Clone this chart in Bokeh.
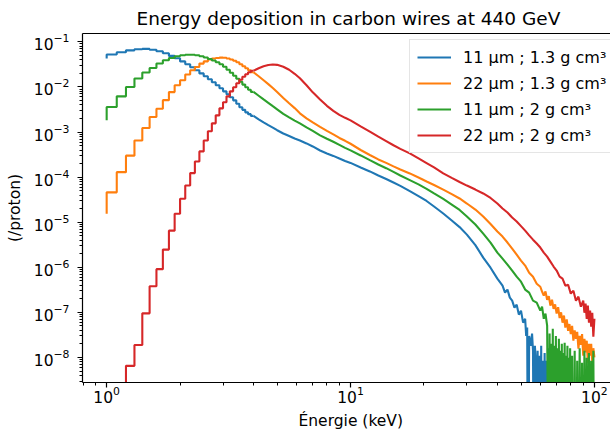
from bokeh.plotting import figure
from bokeh.models import (LogAxis, FixedTicker, LogTickFormatter, Legend,
                          LegendItem, Range1d, Title)
from bokeh.embed import file_html
from bokeh.resources import INLINE

# ---------------- data ----------------
# common energy points (keV) for the smooth part of the spectra
energy_keV = [1.0, 1.1, 1.2, 1.3, 1.4, 1.5, 1.6, 1.7, 1.8, 1.9,
              2.0, 2.1, 2.2, 2.3, 2.4, 2.5, 2.6, 2.7, 2.8, 2.9,
              3.0, 3.1, 3.2, 3.3, 3.4, 3.5, 3.6, 3.7, 3.8, 3.9, 4.0,
              4.2, 4.4, 4.6, 4.8, 5.0, 5.3, 5.6, 5.9, 6.2, 6.6, 7.0,
              7.5, 8.0, 8.5, 9.0, 9.5, 10, 11, 12, 13, 14, 15, 16,
              17.5, 19, 20.5, 22, 24, 26, 28, 30, 32.5, 35, 37.5, 40]
N_STEP = 31  # bins 1.0 ... 4.0 keV are wide enough on screen to show as steps

blue_11um_13 = [4.3e-2, 5.25e-2, 5.9e-2, 6.5e-2, 6.9e-2, 7.0e-2, 6.7e-2, 6.2e-2, 5.6e-2, 4.9e-2,
                4.35e-2, 3.7e-2, 3.2e-2, 2.74e-2, 2.35e-2, 2.0e-2, 1.73e-2, 1.48e-2, 1.27e-2, 1.09e-2,
                9.4e-3, 8.0e-3, 6.9e-3, 5.9e-3, 5.05e-3, 4.25e-3, 3.54e-3, 3.11e-3, 2.74e-3, 2.5e-3, 2.29e-3,
                1.91e-3, 1.64e-3, 1.42e-3, 1.25e-3, 1.1e-3, 9.3e-4, 8.2e-4, 7.2e-4, 6.5e-4, 5.6e-4, 4.8e-4,
                3.9e-4, 3.36e-4, 2.96e-4, 2.6e-4, 2.29e-4, 2.07e-4, 1.64e-4, 1.34e-4, 1.09e-4, 9.1e-5, 7.6e-5, 6.4e-5,
                4.9e-5, 3.8e-5, 2.96e-5, 2.23e-5, 1.56e-5, 1.09e-5, 7.8e-6, 5.3e-6, 3.1e-6, 1.64e-6, 9.8e-7, 5.6e-7]
blue_tail_x = [42, 43, 44, 45, 46, 47, 48, 49, 50, 51, 52, 52.5, 53, 53.5, 54, 55, 55.5, 56, 56.5, 57,
               57.5, 58, 58.5, 59, 59.5, 60, 60.5, 61, 61.5, 62, 62.5, 63, 63.5, 64, 64.5, 65, 65.5, 66,
               66.5, 67, 67.5, 68, 68.5, 69, 69.5, 70, 70.5, 71, 71.5, 72, 72.5, 73, 73.5, 74, 74.5, 75]
blue_tail_y = [3.9e-7, 2.74e-7, 3.2e-7, 2.12e-7, 1.82e-7, 1.27e-7, 1.48e-7, 8.9e-8, 1.09e-7, 5.9e-8,
               7.2e-8, 3.0e-8, 4.6e-8, 0, 3.0e-8, 1.82e-8, 3.4e-8, 1.41e-8, 0, 1.82e-8,
               8.45e-9, 0, 1.41e-8, 0, 1.09e-8, 0, 1.82e-8, 0, 8.45e-9, 0, 1.25e-8, 0, 8.45e-9, 0,
               1.6e-8, 0, 7.7e-9, 0, 1.09e-8, 0, 6.5e-9, 0, 9.8e-9, 0, 6.5e-9, 0, 1.25e-8, 0,
               5.6e-9, 0, 8.45e-9, 0, 5.6e-9, 0, 7.7e-9, 0]

orange_22um_13 = [1.54e-5, 4.6e-5, 1.29e-4, 3.0e-4, 6.5e-4, 1.23e-3, 2.16e-3, 3.3e-3, 5.1e-3, 7.7e-3,
                  1.09e-2, 1.41e-2, 1.89e-2, 2.35e-2, 2.78e-2, 3.3e-2, 3.7e-2, 4.06e-2, 4.28e-2, 4.41e-2,
                  4.48e-2, 4.45e-2, 4.3e-2, 4.06e-2, 3.82e-2, 3.54e-2, 3.2e-2, 2.88e-2, 2.6e-2, 2.35e-2, 2.12e-2,
                  1.73e-2, 1.41e-2, 1.16e-2, 9.5e-3, 7.7e-3, 5.7e-3, 4.35e-3, 3.4e-3, 2.6e-3, 2.02e-3, 1.64e-3,
                  1.3e-3, 1.06e-3, 8.9e-4, 7.4e-4, 6.4e-4, 5.5e-4, 4.0e-4, 3.1e-4, 2.47e-4, 2.07e-4, 1.73e-4, 1.48e-4,
                  1.21e-4, 9.8e-5, 8.0e-5, 6.7e-5, 5.3e-5, 4.2e-5, 3.36e-5, 2.6e-5, 1.91e-5, 1.34e-5, 9.1e-6, 6.2e-6]
orange_tail_x = [42, 44, 46, 48, 50, 52, 54, 56, 58, 60, 61, 62, 63, 64, 65, 66, 67, 68, 69, 70,
                 71, 72, 73, 74, 75, 76, 77, 78, 79, 80, 81, 82, 83, 84, 85, 86, 87, 88, 89, 90,
                 91, 92, 93, 94, 95, 96, 97, 98, 99, 100]
orange_tail_y = [4.8e-6, 3.54e-6, 2.6e-6, 1.91e-6, 1.41e-6, 1.09e-6, 7.6e-7, 6.2e-7, 4.3e-7, 3.7e-7,
                 2.9e-7, 2.35e-7, 2.9e-7, 1.9e-7, 2.3e-7, 1.41e-7, 1.9e-7, 1.2e-7, 1.5e-7, 9.4e-8,
                 1.3e-7, 7.5e-8, 1.0e-7, 5.9e-8, 8.5e-8, 4.6e-8, 7.0e-8, 3.9e-8, 5.5e-8, 3.3e-8,
                 5.0e-8, 2.35e-8, 4.0e-8, 2.6e-8, 3.7e-8, 1.56e-8, 3.0e-8, 1.9e-8, 3.3e-8, 1.09e-8,
                 2.6e-8, 1.3e-8, 2.35e-8, 7.6e-9, 2.0e-8, 1.1e-8, 2.0e-8, 7.6e-9, 1.6e-8, 1.0e-8]

green_11um_2 = [1.82e-3, 3.6e-3, 6.2e-3, 1.0e-2, 1.54e-2, 2.09e-2, 2.64e-2, 3.31e-2, 3.92e-2, 4.41e-2,
                4.81e-2, 5.06e-2, 5.2e-2, 5.2e-2, 5.06e-2, 4.81e-2, 4.5e-2, 4.17e-2, 3.86e-2, 3.54e-2,
                3.2e-2, 2.81e-2, 2.41e-2, 2.07e-2, 1.77e-2, 1.52e-2, 1.31e-2, 1.13e-2, 9.85e-3, 8.7e-3, 7.8e-3,
                6.4e-3, 5.3e-3, 4.46e-3, 3.76e-3, 3.2e-3, 2.54e-3, 2.12e-3, 1.8e-3, 1.56e-3, 1.27e-3, 1.06e-3,
                8.45e-4, 7.1e-4, 6.1e-4, 5.2e-4, 4.46e-4, 3.92e-4, 3.03e-4, 2.38e-4, 1.91e-4, 1.58e-4, 1.31e-4, 1.09e-4,
                8.6e-5, 6.9e-5, 5.5e-5, 4.35e-5, 3.28e-5, 2.47e-5, 1.87e-5, 1.34e-5, 8.9e-6, 5.6e-6, 3.54e-6, 2.12e-6]
green_tail_x = [42, 44, 46, 48, 50, 52, 54, 56, 58, 60, 61, 62, 63, 64, 65, 65.5, 66, 66.5, 67, 67.5,
                68, 68.5, 69, 69.5, 70, 70.5, 71, 71.5, 72, 72.5, 73, 73.5, 74, 74.5, 75, 75.5, 76, 76.5,
                77, 77.5, 78, 78.5, 79, 79.5, 80, 81, 82, 83, 84, 85, 86, 87, 88, 89, 90, 91, 92, 93,
                94, 95, 96, 97, 98, 99, 100]
green_tail_y = [1.56e-6, 1.15e-6, 8.45e-7, 6.2e-7, 4.8e-7, 3.2e-7, 2.74e-7, 1.82e-7, 1.64e-7, 1.09e-7,
                1.34e-7, 7.2e-8, 9.4e-8, 5.1e-8, 0, 3.4e-8, 0, 2.0e-8, 0, 4.35e-8,
                0, 1.82e-8, 0, 3.0e-8, 0, 1.6e-8, 0, 2.6e-8, 0, 1.41e-8, 0, 2.0e-8, 0, 1.25e-8, 0, 2.12e-8, 0, 1.09e-8,
                0, 1.82e-8, 0, 9.8e-9, 0, 1.6e-8, 0, 1.09e-8, 0, 1.41e-8, 0, 8.45e-9, 0, 1.6e-8, 0, 7.6e-9, 0, 1.41e-8, 0, 9.8e-9,
                0, 1.25e-8, 0, 8.45e-9, 0, 1.41e-8, 0]

red_22um_2 = [0, 0, 0, 6.5e-9, 1.89e-8, 9.5e-8, 3.8e-7, 9.1e-7, 2.47e-6, 6.5e-6,
              1.54e-5, 3.31e-5, 6.5e-5, 1.23e-4, 2.23e-4, 3.72e-4, 6.5e-4, 1.04e-3, 1.56e-3, 2.35e-3,
              3.36e-3, 4.57e-3, 6.2e-3, 8.0e-3, 9.85e-3, 1.21e-2, 1.45e-2, 1.69e-2, 1.92e-2, 2.12e-2, 2.29e-2,
              2.6e-2, 2.88e-2, 3.08e-2, 3.16e-2, 3.1e-2, 2.81e-2, 2.41e-2, 1.96e-2, 1.56e-2, 1.09e-2, 7.6e-3,
              5.3e-3, 3.82e-3, 2.96e-3, 2.41e-3, 2.07e-3, 1.82e-3, 1.34e-3, 1.02e-3, 7.9e-4, 6.3e-4, 5.1e-4, 4.24e-4,
              3.36e-4, 2.6e-4, 2.05e-4, 1.64e-4, 1.21e-4, 9.6e-5, 7.8e-5, 6.5e-5, 5.3e-5, 4.35e-5, 3.45e-5, 2.6e-5]
red_tail_x = [42, 44, 46, 48, 50, 52, 54, 56, 58, 60, 62, 64, 66, 68, 70, 72, 74, 76, 78, 80,
              82, 84, 86, 88, 90, 91, 92, 93, 94, 95, 96, 97, 98, 99, 100]
red_tail_y = [2.02e-5, 1.64e-5, 1.27e-5, 1.04e-5, 8.2e-6, 6.5e-6, 5.1e-6, 4.1e-6, 3.36e-6, 2.74e-6,
              2.12e-6, 1.73e-6, 1.34e-6, 1.04e-6, 8.45e-7, 6.2e-7, 5.6e-7, 3.9e-7, 4.1e-7, 2.6e-7,
              3.03e-7, 1.82e-7, 2.23e-7, 1.34e-7, 1.82e-7, 9.8e-8, 1.56e-7, 7.2e-8, 1.41e-7, 5.9e-8,
              1.09e-7, 4.8e-8, 9.8e-8, 2.88e-8, 7.2e-8]

labels = ["11 \u03bcm ; 1.3 g cm\u00b3", "22 \u03bcm ; 1.3 g cm\u00b3",
          "11 \u03bcm ; 2 g cm\u00b3", "22 \u03bcm ; 2 g cm\u00b3"]
colors = ["#1f77b4", "#ff7f0e", "#2ca02c", "#d62728"]

series = [(blue_11um_13, blue_tail_x, blue_tail_y),
          (orange_22um_13, orange_tail_x, orange_tail_y),
          (green_11um_2, green_tail_x, green_tail_y),
          (red_22um_2, red_tail_x, red_tail_y)]

FONT = "DejaVu Sans"
FLOOR = 1e-12  # empty bins are clipped below the axis (as on a log scale)

p = figure(width=610, height=436, x_axis_type="log", y_axis_type="log",
           x_range=Range1d(0.796, 116.4), y_range=Range1d(2.78e-9, 0.1537),
           output_backend="svg", toolbar_location=None,
           min_border_left=82, min_border_right=0, min_border_top=33,
           min_border_bottom=54)
p.outline_line_color = None
p.xgrid.visible = False
p.ygrid.visible = False
p.background_fill_color = "white"
p.border_fill_color = "white"

p.title.text = "Energy deposition in carbon wires at 440 GeV"
p.title.align = "left"
p.title.offset = 54
p.title.text_font = FONT
p.title.text_font_size = "18.5px"
p.title.text_font_style = "normal"
p.title.text_color = "black"
p.title.standoff = 10

renderers = []
for (main, tx, ty), col in zip(series, colors):
    xs = energy_keV + tx
    ys = [v if v > 0 else FLOOR for v in (main + ty)]
    # wide low-energy bins: drawn as steps (as a step histogram)
    r = p.step(xs[:N_STEP], ys[:N_STEP], mode="before", line_color=col, line_width=2.1)
    # narrow bins at higher energy: the steps merge into a continuous trace
    p.line(xs[N_STEP - 1:], ys[N_STEP - 1:], line_color=col, line_width=2.1)
    renderers.append(r)

xt = FixedTicker(ticks=[1, 10, 100],
                 minor_ticks=[m * 10.0 ** k for k in range(-1, 3) for m in range(2, 10)])
yt = FixedTicker(ticks=[10.0 ** k for k in range(-8, 0)],
                 minor_ticks=[m * 10.0 ** k for k in range(-9, 0) for m in range(2, 10)])
p.xaxis[0].ticker = xt
p.yaxis[0].ticker = yt
p.xaxis[0].formatter = LogTickFormatter()
p.yaxis[0].formatter = LogTickFormatter()
p.yaxis.axis_label = "(/proton)"

for ax in (p.xaxis[0], p.yaxis[0]):
    ax.axis_line_color = "black"
    ax.axis_line_width = 1.2
    ax.major_tick_line_color = "black"
    ax.major_tick_line_width = 1.2
    ax.minor_tick_line_color = "black"
    ax.minor_tick_line_width = 1.0
    ax.major_tick_out = 5
    ax.major_tick_in = 0
    ax.minor_tick_out = 3
    ax.minor_tick_in = 0
    ax.major_label_text_font = FONT
    ax.major_label_text_font_size = "15.5px"
    ax.major_label_text_color = "black"
    ax.axis_label_text_font = FONT
    ax.axis_label_text_font_size = "15.5px"
    ax.axis_label_text_font_style = "normal"
    ax.axis_label_text_color = "black"
p.xaxis[0].major_label_standoff = -2
p.yaxis[0].major_label_standoff = 8
p.yaxis[0].axis_label_standoff = 7

# x-axis label, placed as a compact text panel below the axis
xlabel = Title(text="\u00c9nergie (keV)", align="left", offset=216,
               text_font=FONT, text_font_size="15.5px", text_font_style="normal",
               text_color="black", standoff=9)
p.add_layout(xlabel, "below")

top = LogAxis(ticker=FixedTicker(ticks=[]), axis_line_color="black", axis_line_width=1.2,
              major_tick_out=0, minor_tick_out=0, major_label_standoff=0)
p.add_layout(top, "above")

legend = Legend(items=[LegendItem(label=l, renderers=[r]) for l, r in zip(labels, renderers)],
                location=(327, 229))
legend.label_text_font = FONT
legend.label_text_font_size = "16px"
legend.label_text_color = "black"
legend.glyph_width = 34
legend.glyph_height = 20
legend.label_height = 20
legend.label_standoff = 12
legend.spacing = 6
legend.padding = 7
legend.margin = 0
legend.border_line_color = "#cccccc"
legend.border_line_width = 1
legend.background_fill_alpha = 0.8
p.add_layout(legend)

open("out.html", "w").write(file_html(p, INLINE))
